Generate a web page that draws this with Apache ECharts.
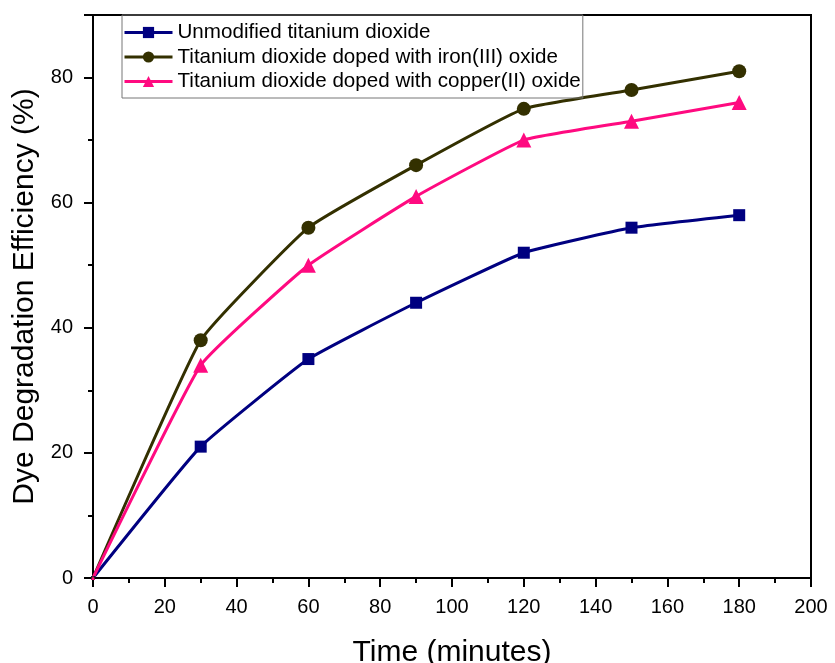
<!DOCTYPE html>
<html>
<head>
<meta charset="utf-8">
<script src="https://cdn.jsdelivr.net/npm/echarts@6/dist/echarts.min.js"></script>
<style>
html, body { margin: 0; padding: 0; background: #fff; }
#main { width: 835px; height: 663px; }
</style>
</head>
<body>
<div id="main"></div>
<script>
// time points (minutes)
var times = [0, 30, 60, 90, 120, 150, 180];
// degradation efficiency (%)
var unmodified = [0, 21, 35, 44, 52, 56, 58];
var ironDoped = [0, 38, 56, 66, 75, 78, 81];
var copperDoped = [0, 34, 50, 61, 70, 73, 76];
var seriesNames = [
    'Unmodified titanium dioxide',
    'Titanium dioxide doped with iron(III) oxide',
    'Titanium dioxide doped with copper(II) oxide'
];

function pairs(values) {
    return times.map(function (t, i) {
        var p = { value: [t, values[i]] };
        if (t === 0) p.symbolSize = 4; // origin marker mostly hidden under axis
        return p;
    });
}

var font = 'Arial, "Liberation Sans", sans-serif';

var myChart = echarts.init(document.getElementById('main'));

var option = {
    animation: false,
    grid: {
        left: 93, right: 24, top: 15, bottom: 85,
        outerBoundsMode: 'none',
        show: true, borderColor: '#000', borderWidth: 2, backgroundColor: 'transparent'
    },
    legend: {
        left: 122, top: 15,
        orient: 'vertical',
        borderColor: '#777', borderWidth: 1,
        padding: [7, 2, 6, 1],
        itemWidth: 48, itemHeight: 14, itemGap: 3.5,
        lineStyle: { width: 3 },
        textStyle: { fontFamily: font, fontSize: 20.6, color: '#000', lineHeight: 20 },
        data: seriesNames
    },
    xAxis: {
        type: 'value', min: 0, max: 200, interval: 20,
        name: 'Time (minutes)', nameLocation: 'middle', nameGap: 60,
        nameTextStyle: { fontFamily: font, fontSize: 30, color: '#000' },
        axisLine: { lineStyle: { color: '#000', width: 2 } },
        axisTick: { inside: false, length: 9, lineStyle: { width: 2 } },
        minorTick: { show: true, splitNumber: 2, length: 5, lineStyle: { color: '#000', width: 2 } },
        axisLabel: { fontFamily: font, fontSize: 20, color: '#000', margin: 19 },
        splitLine: { show: false }
    },
    yAxis: {
        type: 'value', min: 0, max: 90, interval: 20,
        name: 'Dye Degradation Efficiency (%)', nameLocation: 'middle', nameGap: 44,
        nameTextStyle: { fontFamily: font, fontSize: 30, color: '#000' },
        axisLine: { show: true, lineStyle: { color: '#000', width: 2 } },
        axisTick: { show: true, length: 9, lineStyle: { width: 2 } },
        minorTick: { show: true, splitNumber: 2, length: 5, lineStyle: { color: '#000', width: 2 } },
        axisLabel: {
            fontFamily: font, fontSize: 20, color: '#000', margin: 20,
            formatter: function (v) { return v % 20 === 0 ? v : ''; }
        },
        splitLine: { show: false }
    },
    series: [
        {
            name: seriesNames[0], type: 'line', smooth: 0.12,
            symbol: 'rect', symbolSize: 12,
            itemStyle: { color: '#000080' },
            lineStyle: { color: '#000080', width: 3 },
            data: pairs(unmodified)
        },
        {
            name: seriesNames[1], type: 'line', smooth: 0.12,
            symbol: 'circle', symbolSize: 14,
            itemStyle: { color: '#333000' },
            lineStyle: { color: '#333000', width: 3 },
            data: pairs(ironDoped)
        },
        {
            name: seriesNames[2], type: 'line', smooth: 0.12,
            symbol: 'triangle', symbolSize: 15,
            itemStyle: { color: '#ff0a80' },
            lineStyle: { color: '#ff0a80', width: 3 },
            data: pairs(copperDoped)
        }
    ]
};

myChart.setOption(option, true);
</script>
</body>
</html>
